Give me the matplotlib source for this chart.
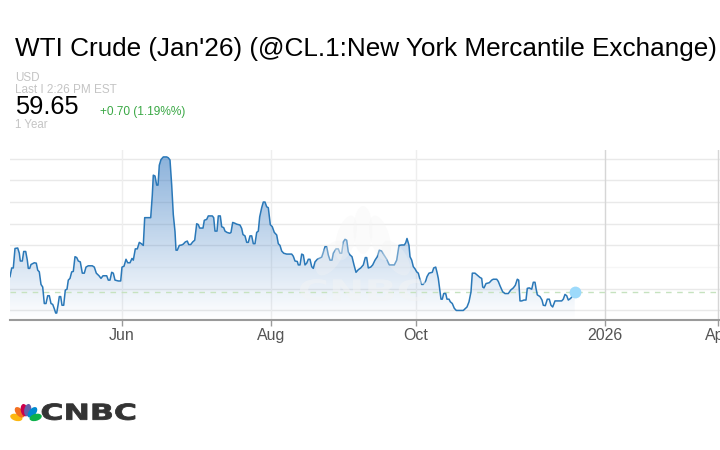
import matplotlib
matplotlib.use('Agg')
import matplotlib.pyplot as plt
import numpy as np
from matplotlib.patches import Ellipse, PathPatch, Polygon
from matplotlib.textpath import TextPath
from matplotlib.font_manager import FontProperties
from matplotlib.transforms import Affine2D

plt.rcParams['font.family'] = ['Liberation Sans', 'DejaVu Sans']

# ---------------- data ----------------
title = "WTI Crude (Jan'26) (@CL.1:New York Mercantile Exchange)"
currency = "USD"
last_label = "Last I 2:26 PM EST"
last_price = 59.65
change_label = "+0.70 (1.19%%)"
period_label = "1 Year"

# time position along the chart (chart units) and price
t = [0, 1.7, 3.3, 5, 7.7, 9.3, 10.3, 12.3, 13.7, 15.7, 17.3, 18.3, 19.7, 21, 24.3, 26.3,
     27.7, 29.3, 31, 32.7, 34.3, 36, 37.7, 39.3, 41, 42.7, 44.3, 45.7, 46.7, 48.3, 49.3,
     50.7, 52, 53.7, 55.3, 57, 58.3, 60, 61.7, 63.3, 65, 66.7, 68.3, 70.3, 72.3, 74.3, 76,
     78.3, 82.3, 84.3, 86.3, 89, 91, 93, 95,
     96.7, 98.3, 100, 101.7, 103.3, 105, 108.3, 110.7, 112, 114, 116, 117.7, 120, 122, 123.3,
     125.3, 127.3, 129.3, 131.3, 133.3, 134.7, 140.7, 142.3, 143.3, 145, 146.7, 148, 149.3,
     151, 153.3, 156.7, 158.3, 160, 161.7, 163.3, 165, 166, 167.3, 169.3, 171.7, 173.3, 175.3,
     177.3, 178.7, 180.7, 182.7, 184.7, 186.7, 188.3,
     189.7, 193, 194.3, 196.7, 198.3, 202.3, 203.7, 205, 207, 208.3, 210.3, 211.7, 213.7, 215,
     217, 219.7, 221, 222.7, 225, 226.7, 230, 231.7, 233, 235, 236.7, 238.3, 240, 241.7, 243.3,
     245, 246.7, 248.3, 249.7, 251.7, 253.3, 255, 256.7, 258.3, 260.3, 262.3, 264.3, 266.7,
     268.3, 270, 271.7, 273.7, 276.7, 281.7, 283.3,
     285, 287.3, 288.3, 290, 291.7, 293.3, 295, 296.7, 298.3, 300, 301.7, 303.3, 305, 307.3,
     310, 311.7, 313.3, 315, 316.7, 318.3, 320, 322, 323.3, 326, 328.3, 330, 331.7, 333.3, 335,
     336.7, 338.3, 340, 342, 344, 346, 348.3, 350.7, 353.3, 355.3, 356.7, 358.3, 360.7, 362.7,
     365, 367.3, 369.3, 371.7, 374, 376.7, 378.7,
     379.5, 384.3, 386.7, 389, 391.7, 394.3, 395.7, 397, 399, 400, 401.7, 403.3, 405, 406.7,
     408.3, 409.7, 411.7, 413.3, 415.7, 417, 419, 422.3, 423.7, 425.7, 427, 428.3, 430, 431,
     432.3, 433.7, 435.7, 437, 439, 440.3, 442.3, 444.3, 446.3, 453.3, 455.7, 457, 459, 461,
     462.3, 465, 467, 470,
     471.7, 472.7, 474, 476, 479.3, 481.7, 483.3, 486.7, 488.3, 490, 492.7, 495, 498.3, 500.7,
     503.3, 505.3, 507.3, 508.7, 510, 511.7, 514, 516, 517.3, 519.3, 521.7, 523.3, 525, 526,
     527.3, 530, 532, 533.3, 535.3, 537.3, 539.3, 541, 542.7, 545, 551.7, 553.3, 555, 556.7,
     558.3, 560.7, 562.7, 564.7]
price = [61.4, 62.4, 62.4, 64.65, 64.7, 64.1, 63.2, 63.2, 64.3, 64.3, 63.3, 62.35, 62.35, 62.8,
         63.0, 62.95, 62.15, 61.95, 60.5, 60.2, 58.3, 58.3, 59.2, 59.2, 58.3, 58.2, 57.7, 57.2,
         57.2, 58.3, 59.1, 59.1, 58.1, 58.1, 59.85, 59.95, 61.0, 61.2, 61.95, 62.0, 63.7, 63.6,
         63.2, 63.1, 61.8, 61.8, 62.5, 62.65, 62.65, 62.5, 61.8, 61.5, 61.2, 61.5, 61.5,
         61.5, 61.0, 61.0, 61.9, 61.8, 61.0, 60.9, 60.9, 62.5, 62.6, 63.4, 63.0, 63.0, 63.5, 63.3,
         64.6, 64.6, 65.35, 65.2, 65.0, 68.2, 68.2, 70.8, 73.1, 73.0, 71.95, 71.95, 74.25,
         74.9, 75.2, 75.2, 75.1, 74.85, 71.95, 68.55, 66.6, 64.45, 64.45, 65.0, 65.05, 65.15,
         65.4, 65.5, 65.1, 65.1, 65.4, 65.6, 67.5, 67.4,
         67.0, 67.0, 67.9, 68.0, 68.4, 68.4, 68.2, 66.65, 66.65, 68.4, 68.4, 67.15, 67.05, 66.65,
         66.5, 66.4, 66.5, 67.65, 67.55, 67.45, 67.35, 66.95, 66.25, 66.1, 65.35, 65.35, 66.1,
         66.1, 65.2, 65.2, 66.5, 66.65, 68.3, 69.35, 70.0, 70.0, 69.45, 69.35, 67.4, 67.15,
         66.5, 66.2, 65.2, 65.0, 64.35, 64.1, 64.0, 64.0, 63.75,
         63.2, 63.15, 62.75, 62.75, 64.0, 63.9, 62.75, 62.95, 63.4, 63.4, 62.55, 62.35, 63.1,
         63.4, 63.55, 63.65, 64.2, 64.85, 64.85, 63.9, 63.3, 63.3, 64.1, 64.6, 64.6, 64.1, 64.1,
         65.4, 65.7, 65.6, 64.25, 63.9, 63.7, 62.75, 61.9, 62.2, 62.4, 62.75, 63.6, 63.6, 62.4,
         62.5, 62.75, 63.3, 63.7, 64.45, 64.35, 63.9, 63.4, 62.9,
         62.75, 62.75, 63.3, 65.0, 65.05, 65.05, 65.3, 65.8, 65.0, 63.7, 63.3, 62.55, 62.3,
         61.95, 61.8, 61.2, 60.5, 60.5, 60.9, 61.4, 61.8, 61.9, 62.4, 62.5, 61.9, 61.2, 59.65,
         58.8, 58.8, 59.45, 59.45, 58.8, 58.8, 58.5, 58.3, 57.75, 57.5, 57.5, 57.75, 57.9, 58.5,
         59.65, 61.8, 61.8, 61.6, 61.3,
         61.2, 60.2, 60.1, 60.6, 60.7, 61.0, 61.1, 61.1, 60.85, 60.35, 59.65, 59.45, 59.45, 59.85,
         60.1, 60.4, 61.1, 61.0, 58.6, 58.6, 58.7, 58.7, 60.05, 60.1, 59.95, 60.75, 60.75, 60.05,
         59.3, 59.1, 58.7, 58.1, 58.05, 58.8, 58.8, 58.1, 57.9, 58.6, 58.6, 58.8, 59.35, 59.2,
         58.7, 58.9, 59.2, 59.65]

tick_pos = [112, 261, 406, 595.3, 707.7]
tick_labels = ['Jun', 'Aug', 'Oct', '2026', 'Apr']
grid_levels = [57.5, 60, 62.5, 65, 67.5, 70, 72.5, 75]

# ---------------- figure ----------------
fig = plt.figure(figsize=(7.2, 4.5), dpi=100)
ax = fig.add_axes([10 / 720, 130 / 450, 710 / 720, 170 / 450])
X0, X1, Y0, Y1 = 0, 710, 56.4, 76.0

# gridlines
for g in grid_levels:
    c = '#f6f6f6' if g == 62.5 else '#e9e9e9'
    ax.axhline(g, color=c, lw=1.0, zorder=0)
for p, lab in zip(tick_pos, tick_labels):
    c = '#d6d6d6' if lab in ('2026', 'Apr') else '#eeeeee'
    ax.axvline(p, color=c, lw=1.0, zorder=0)

# gradient fill under the line
base = np.array([0.22, 0.48, 0.76])
n = 256
rgba = np.zeros((n, 1, 4))
rgba[..., :3] = base
rgba[:, 0, 3] = np.linspace(0.0, 0.6, n)
im = ax.imshow(rgba, extent=[X0, X1, Y0, Y1], origin='lower', aspect='auto',
               zorder=1, interpolation='bilinear')
poly = Polygon(np.column_stack([[t[0]] + t + [t[-1]], [Y0] + price + [Y0]]),
               closed=True, transform=ax.transData, facecolor='none', edgecolor='none')
ax.add_patch(poly)
im.set_clip_path(poly)

# last price dashed line
ax.axhline(last_price, color='#c6e2bf', lw=1.0, ls=(0, (4, 4)), zorder=2)

ax.plot(t, price, color='#2a78b8', lw=1.1, zorder=3, solid_joinstyle='round')
ax.plot([t[-1]], [price[-1]], 'o', ms=8.5, color='#9ddafb', mec='none', zorder=4)

ax.set_xlim(X0, X1)
ax.set_ylim(Y0, Y1)
for s in ('top', 'right', 'left'):
    ax.spines[s].set_visible(False)
ax.spines['bottom'].set_color('#9a9a9a')
ax.spines['bottom'].set_linewidth(1.5)
ax.set_yticks([])
ax.set_xticks(tick_pos, tick_labels)
ax.tick_params(axis='x', length=4, width=1, color='#9a9a9a', labelcolor='#555555',
               labelsize=11.5, pad=2)
ax.patch.set_alpha(0)

# ---------------- overlay (pixel coordinates) ----------------
ov = fig.add_axes([0, 0, 1, 1], zorder=5)
ov.set_xlim(0, 720)
ov.set_ylim(450, 0)
ov.axis('off')
ov.patch.set_alpha(0)

# watermark
wm_col = '#f4f4f4'
feathers = [(330, 258, 20, 40, 35), (346, 238, 19, 46, 15), (363, 230, 19, 48, 0),
            (380, 238, 19, 46, -15), (396, 258, 20, 40, -35)]
for (cx, cy, w, h, ang) in feathers:
    ov.add_patch(Ellipse((cx, cy), w, h, angle=ang, facecolor=wm_col, edgecolor='none',
                         alpha=0.33))
fp_b = FontProperties(family='DejaVu Sans', weight='bold')
tp = TextPath((0, 0), 'CNBC', prop=fp_b, size=1)
bb = tp.get_extents()
tr = Affine2D().translate(-bb.x0, -bb.y0).scale(125 / bb.width, -22 / bb.height)\
    .translate(300, 301)
ov.add_patch(PathPatch(tr.transform_path(tp), facecolor=wm_col, edgecolor='none', alpha=0.45))

# header texts
fig.text(15 / 720, 1 - 56 / 450, title, fontsize=18.8, color='black', va='baseline')
fig.text(15 / 720, 1 - 80.7 / 450, currency, fontsize=8.4, color='#c4c4c4', va='baseline')
fig.text(15 / 720, 1 - 93.3 / 450, last_label, fontsize=8.5, color='#c4c4c4', va='baseline')
fig.text(15 / 720, 1 - 114.5 / 450, f"{last_price:.2f}", fontsize=18.3, color='black',
         va='baseline')
fig.text(100 / 720, 1 - 114.5 / 450, change_label, fontsize=8.6, color='#3aa845',
         va='baseline')
fig.text(15 / 720, 1 - 127.5 / 450, period_label, fontsize=8.3, color='#c4c4c4',
         va='baseline')

# CNBC logo (bottom left)
logo_cols = ['#fcb711', '#f37021', '#cc004c', '#6460aa', '#0089d0', '#0db14b']
angles = [165, 130, 100, 80, 50, 15]
bx, by = 26, 420
for col, a in zip(logo_cols, angles):
    r = np.deg2rad(a)
    cx = bx + 10 * np.cos(r)
    cy = by - 10 * np.sin(r)
    ov.add_patch(Ellipse((cx, cy), 7, 12.5, angle=-(a - 90), facecolor=col,
                         edgecolor='none'))
tp2 = TextPath((0, 0), 'CNBC', prop=fp_b, size=1)
bb2 = tp2.get_extents()
tr2 = Affine2D().translate(-bb2.x0, -bb2.y0).scale(93 / bb2.width, -16.5 / bb2.height)\
    .translate(42, 420)
ov.add_patch(PathPatch(tr2.transform_path(tp2), facecolor='#333333', edgecolor='#333333',
                       lw=0.6))

fig.savefig('out.png', dpi=100)
